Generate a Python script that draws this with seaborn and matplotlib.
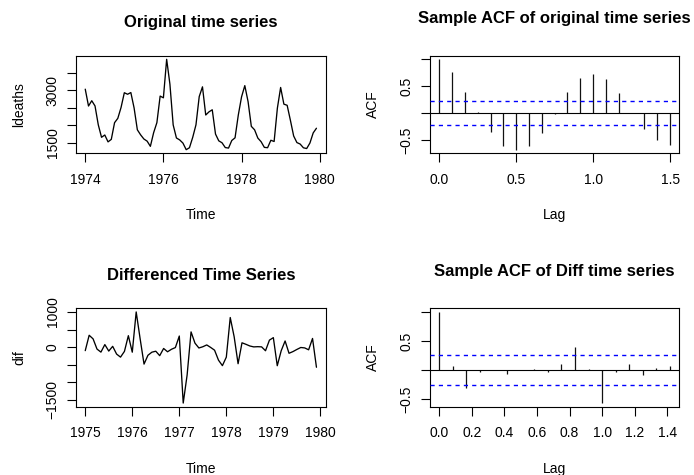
import numpy as np
import pandas as pd
import matplotlib
matplotlib.use("Agg")
import matplotlib.pyplot as plt
import seaborn as sns

# ---- data: monthly UK lung-disease deaths (ldeaths), 1974-1979 ----
ldeaths = [3035, 2552, 2704, 2554, 2014, 1655, 1721, 1524, 1596, 2074, 2199, 2512,
           2933, 2889, 2938, 2497, 1870, 1726, 1607, 1545, 1396, 1787, 2076, 2837,
           2787, 3891, 3179, 2011, 1636, 1580, 1489, 1300, 1356, 1653, 2013, 2823,
           3102, 2294, 2385, 2444, 1748, 1554, 1498, 1361, 1346, 1564, 1640, 2293,
           2815, 3137, 2679, 1969, 1870, 1633, 1529, 1366, 1357, 1570, 1535, 2491,
           3084, 2605, 2573, 2143, 1693, 1504, 1461, 1354, 1333, 1492, 1781, 1915]
ldeaths_start = 1974

# lag-12 differenced series, 1975-1979
dif = [-102, 337, 234, -57, -144, 71, -114, 21, -200, -287, -123, 325,
       -146, 1002, 241, -486, -234, -146, -118, -245, -40, -134, -63, -14,
       315, -1597, -794, 433, 112, -26, 9, 61, -10, -89, -373, -530,
       -287, 843, 294, -475, 122, 79, 31, 5, 11, 6, -105, 198,
       269, -532, -106, 174, -177, -129, -68, -12, -24, -78, 246, -576]
dif_start = 1975
frequency = 12
acf_lagmax_orig = 18
acf_lagmax_dif = 17

titles = ["Original time series", "Sample ACF of original time series",
          "Differenced Time Series", "Sample ACF of Diff time series"]
ylabels = ["ldeaths", "ACF", "dif", "ACF"]
xlabels = ["Time", "Lag", "Time", "Lag"]

tl_xticks = [1974, 1976, 1978, 1980]
tl_yticks = [1500, 2000, 2500, 3000, 3500]
tl_ylabels = ["1500", "", "", "3000", ""]
bl_xticks = [1975, 1976, 1977, 1978, 1979, 1980]
bl_yticks = [-1500, -1000, -500, 0, 500, 1000]
bl_ylabels = ["\u22121500", "", "", "0", "", "1000"]
tr_xticks = [0.0, 0.5, 1.0, 1.5]
tr_xlabels = ["0.0", "0.5", "1.0", "1.5"]
br_xticks = [0.0, 0.2, 0.4, 0.6, 0.8, 1.0, 1.2, 1.4]
br_xlabels = ["0.0", "0.2", "0.4", "0.6", "0.8", "1.0", "1.2", "1.4"]
acf_yticks = [-0.5, 0.0, 0.5, 1.0]
acf_ylabels = ["\u22120.5", "", "0.5", ""]


def sample_acf(x, lagmax):
    x = np.asarray(x, float)
    xc = x - x.mean()
    denom = np.sum(xc * xc)
    return np.array([np.sum(xc[:len(x) - k] * xc[k:]) / denom for k in range(lagmax + 1)])


sns.set_theme(style="white")
plt.rcParams['font.family'] = ['Liberation Sans', 'DejaVu Sans']
plt.rcParams['axes.edgecolor'] = 'black'
plt.rcParams['axes.linewidth'] = 0.75

W, H = 694, 475
fig = plt.figure(figsize=(W / 100, H / 100), dpi=100)

def rect(l, t, r, b):
    return [l / W, 1 - b / H, (r - l) / W, (b - t) / H]

ax_tl = fig.add_axes(rect(76, 55.7, 325.7, 153.3))
ax_tr = fig.add_axes(rect(430, 55.7, 679.3, 153.3))
ax_bl = fig.add_axes(rect(76, 308.3, 325.7, 406.7))
ax_br = fig.add_axes(rect(430, 308.3, 679.3, 406.7))
axes = [ax_tl, ax_tr, ax_bl, ax_br]

FS = 10
TFS = 12
LW = 0.8
BLUE = "#0000FF"

# time series panels
df1 = pd.DataFrame({"Time": ldeaths_start + np.arange(len(ldeaths)) / frequency,
                    "ldeaths": ldeaths})
sns.lineplot(data=df1, x="Time", y="ldeaths", ax=ax_tl, color="black", lw=0.95)
df2 = pd.DataFrame({"Time": dif_start + np.arange(len(dif)) / frequency, "dif": dif})
sns.lineplot(data=df2, x="Time", y="dif", ax=ax_bl, color="black", lw=0.95)
for ax in (ax_tl, ax_bl):
    ax.margins(x=0.04, y=0.04)

# ACF panels
for ax, series, lagmax in ((ax_tr, ldeaths, acf_lagmax_orig), (ax_br, dif, acf_lagmax_dif)):
    r = sample_acf(series, lagmax)
    lags = np.arange(lagmax + 1) / frequency
    ax.vlines(lags, 0, r, color="#111111", lw=0.9, zorder=3)
    ax.axhline(0, color="black", lw=LW, zorder=3)
    ci = 1.96 / np.sqrt(len(series))
    for s in (ci, -ci):
        ln = ax.axhline(s, lw=1.0, zorder=4)
        ln.set_color(BLUE)
        ln.set_linestyle((0, (3.0, 3.0)))
    lo = min(r.min(), -ci)
    hi = max(r.max(), ci)
    span = hi - lo
    ax.set_ylim(lo - 0.04 * span, hi + 0.04 * span)
    xspan = lags[-1]
    ax.set_xlim(-0.04 * xspan, lags[-1] + 0.04 * xspan)

ax_tl.set_xticks(tl_xticks)
ax_tl.set_xticklabels([str(v) for v in tl_xticks])
ax_tl.set_yticks(tl_yticks)
ax_tl.set_yticklabels(tl_ylabels)
ax_bl.set_xticks(bl_xticks)
ax_bl.set_xticklabels([str(v) for v in bl_xticks])
ax_bl.set_yticks(bl_yticks)
ax_bl.set_yticklabels(bl_ylabels)
ax_tr.set_xticks(tr_xticks)
ax_tr.set_xticklabels(tr_xlabels)
ax_br.set_xticks(br_xticks)
ax_br.set_xticklabels(br_xlabels)
for ax in (ax_tr, ax_br):
    ax.set_yticks(acf_yticks)
    ax.set_yticklabels(acf_ylabels)

for i, ax in enumerate(axes):
    for sp in ax.spines.values():
        sp.set_visible(True)
        sp.set_color("black")
        sp.set_linewidth(LW)
    ax.tick_params(axis="both", direction="out", length=6.7, width=LW,
                   color="black", labelsize=FS, labelcolor="black",
                   bottom=True, left=True)
    ax.tick_params(axis="x", pad=7.4)
    ax.tick_params(axis="y", pad=5.0)
    for lab in ax.get_yticklabels():
        lab.set_rotation(90)
        lab.set_va("center")
        lab.set_ha("right")
    ax.set_xlabel(xlabels[i], fontsize=FS, color="black", va="top")
    ax.set_ylabel(ylabels[i], fontsize=FS, color="black")
    axw = ax.get_position().width * W
    axh = ax.get_position().height * H
    ax.xaxis.set_label_coords(0.5, -55.0 / axh)
    ax.yaxis.set_label_coords(-50.0 / axw, 0.5)
    pad = 20.7 if i in (0, 2) else 23.6
    ax.set_title(titles[i], fontsize=TFS, fontweight="bold", color="black", pad=pad)
    ax.grid(False)

fig.savefig("out.png", dpi=100, facecolor="white")
